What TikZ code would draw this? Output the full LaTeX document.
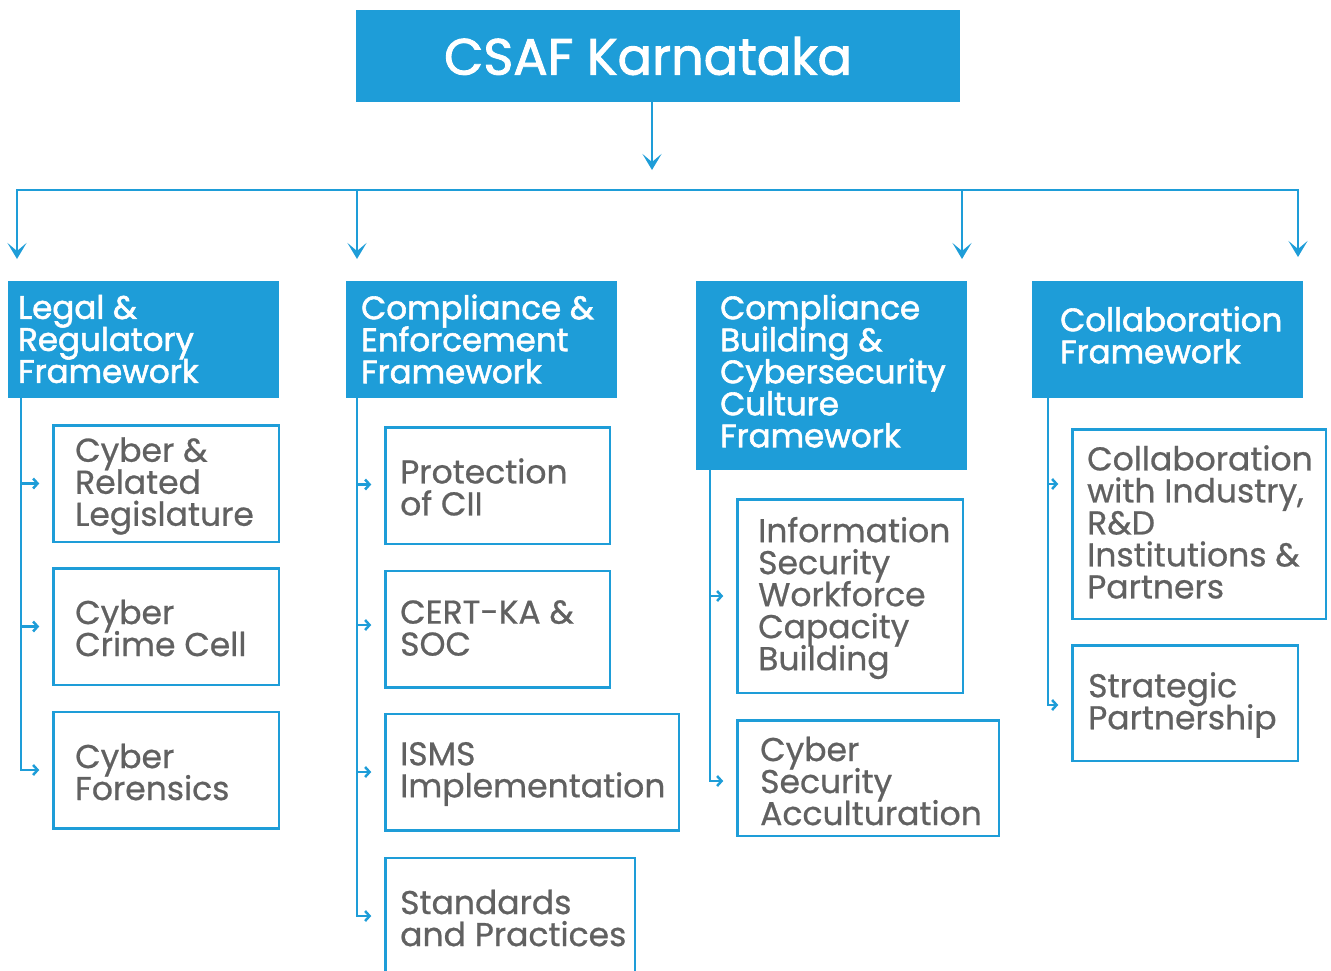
\documentclass[tikz,border=0pt]{standalone}
\usepackage{fontspec}
\setmainfont{Poppins}
\newfontfamily\medfont{Poppins}[FakeBold=0.7]
\newfontfamily\semifont{Poppins}[FakeBold=1.8]
\usetikzlibrary{arrows.meta}
\setlength{\lineskiplimit}{-50pt}
\definecolor{csblue}{RGB}{30,157,216}
\definecolor{csgray}{RGB}{97,97,97}
\tikzset{
  headbox/.style={fill=csblue, draw=none, inner sep=0, outer sep=0},
  childbox/.style={draw=csblue, line width=2.5pt, fill=white, inner sep=0, outer sep=0},
  htext/.style={text=white, font=\fontsize{32.5}{32}\selectfont\semifont, align=left, inner sep=0, anchor=west},
  ctext/.style={text=csgray, font=\fontsize{33}{32}\selectfont\medfont, align=left, inner sep=0, anchor=west},
  conn/.style={draw=csblue, line width=2.5pt},
  bigarrow/.style={conn, -{Stealth[length=16pt,width=19pt,inset=8pt]}},
  smallarrow/.style={conn, -{Straight Barb[length=4.5pt,width=10pt]}, shorten >=14pt},
}
\begin{document}
\begin{tikzpicture}[x=1pt,y=-1pt]
\useasboundingbox (0,0) rectangle (1331,970);
\clip (0,0) rectangle (1331,970);
% title
\node[headbox, minimum width=604pt, minimum height=92pt] (title) at (658,56) {};
\node[text=white, font=\fontsize{51}{52}\selectfont\semifont, inner sep=0] (titlet) at (648,56) {CSAF Karnataka};
% headers
\node[headbox, minimum width=271pt, minimum height=117pt] (h1) at (143.5,339.5) {};
\node[headbox, minimum width=271pt, minimum height=117pt] (h2) at (481.5,339.5) {};
\node[headbox, minimum width=271pt, minimum height=189pt] (h3) at (831.5,375.5) {};
\node[headbox, minimum width=271pt, minimum height=117pt] (h4) at (1167.5,339.5) {};
\node[htext] (h1t) at (18,339) {Legal \&\\Regulatory\\Framework};
\node[htext] (h2t) at (361,339) {Compliance \&\\Enforcement\\Framework};
\node[htext] (h3t) at (720,371) {Compliance\\Building \&\\Cybersecurity\\Culture\\Framework};
\node[htext] (h4t) at (1060,335) {Collaboration\\Framework};
% child boxes
\node[childbox, minimum width=225.5pt, minimum height=116.5pt] (c1a) at (166,483.5) {};
\node[childbox, minimum width=225.5pt, minimum height=116.5pt] (c1b) at (166,626.5) {};
\node[childbox, minimum width=225.5pt, minimum height=116.5pt] (c1c) at (166,770) {};
\node[childbox, minimum width=224.5pt, minimum height=116.5pt] (c2a) at (497.5,485.5) {};
\node[childbox, minimum width=224.5pt, minimum height=116.5pt] (c2b) at (497.5,629) {};
\node[childbox, minimum width=293.5pt, minimum height=116.5pt] (c2c) at (532,772) {};
\node[childbox, minimum width=249.5pt, minimum height=116.5pt] (c2d) at (510,916) {};
\node[childbox, minimum width=225.5pt, minimum height=193.5pt] (c3a) at (850,596) {};
\node[childbox, minimum width=261.5pt, minimum height=115.5pt] (c3b) at (868,778) {};
\node[childbox, minimum width=253.5pt, minimum height=189.5pt] (c4a) at (1199,524) {};
\node[childbox, minimum width=225.5pt, minimum height=115.5pt] (c4b) at (1185,703) {};
% child texts
\node[ctext] (c1at) at (75,486) {Cyber \&\\Related\\Legislature};
\node[ctext] (c1bt) at (75,628) {Cyber\\Crime Cell};
\node[ctext] (c1ct) at (75,772) {Cyber\\Forensics};
\node[ctext] (c2at) at (400,487) {Protection\\of CII};
\node[ctext] (c2bt) at (400,628) {CERT-KA \&\\SOC};
\node[ctext] (c2ct) at (400,774) {ISMS\\Implementation};
\node[ctext] (c2dt) at (400,918) {Standards\\and Practices};
\node[ctext] (c3at) at (758,598) {Information\\Security\\Workforce\\Capacity\\Building};
\node[ctext] (c3bt) at (760,781) {Cyber\\Security\\Acculturation};
\node[ctext] (c4at) at (1087,522) {Collaboration\\with Industry,\\R\&D\\Institutions \&\\Partners};
\node[ctext] (c4bt) at (1088,705) {Strategic\\Partnership};
% top connectors
\coordinate (tA) at (652,170);
\draw[bigarrow] (title.south -| tA) -- (tA);
\coordinate (b1) at (17,190);
\coordinate (b2) at (357,190);
\coordinate (b3) at (962,190);
\coordinate (b4) at (1298,190);
\draw[conn] (b2) -- (b3);
\draw[bigarrow, shorten >=22pt] (b2) -| (h1.north -| b1);
\draw[bigarrow, shorten >=22pt] (b2) -- (h2.north -| b2);
\draw[bigarrow, shorten >=22pt] (b3) -- (h3.north -| b3);
\draw[bigarrow, shorten >=24pt] (b3) -| (h4.north -| b4);
% column 1
\coordinate (v1) at (21,0);
\draw[smallarrow] (h1.south -| v1) |- (c1c.west);
\draw[smallarrow] (c1a.west -| v1) -- (c1a.west);
\draw[smallarrow] (c1b.west -| v1) -- (c1b.west);
% column 2
\coordinate (v2) at (357,0);
\draw[smallarrow] (h2.south -| v2) |- (c2d.west);
\draw[smallarrow] ([yshift=1pt]c2a.west -| v2) -- ([yshift=1pt]c2a.west);
\draw[smallarrow] ([yshift=4pt]c2b.west -| v2) -- ([yshift=4pt]c2b.west);
\draw[smallarrow] (c2c.west -| v2) -- (c2c.west);
% column 3
\coordinate (v3) at (710,0);
\draw[smallarrow] (h3.south -| v3) |- ([yshift=-3pt]c3b.west);
\draw[smallarrow] (c3a.west -| v3) -- (c3a.west);
% column 4
\coordinate (v4) at (1048,0);
\draw[smallarrow] (h4.south -| v4) |- ([yshift=-2pt]c4b.west);
\draw[smallarrow] ([yshift=40pt]c4a.west -| v4) -- ([yshift=40pt]c4a.west);
\end{tikzpicture}
\end{document}
